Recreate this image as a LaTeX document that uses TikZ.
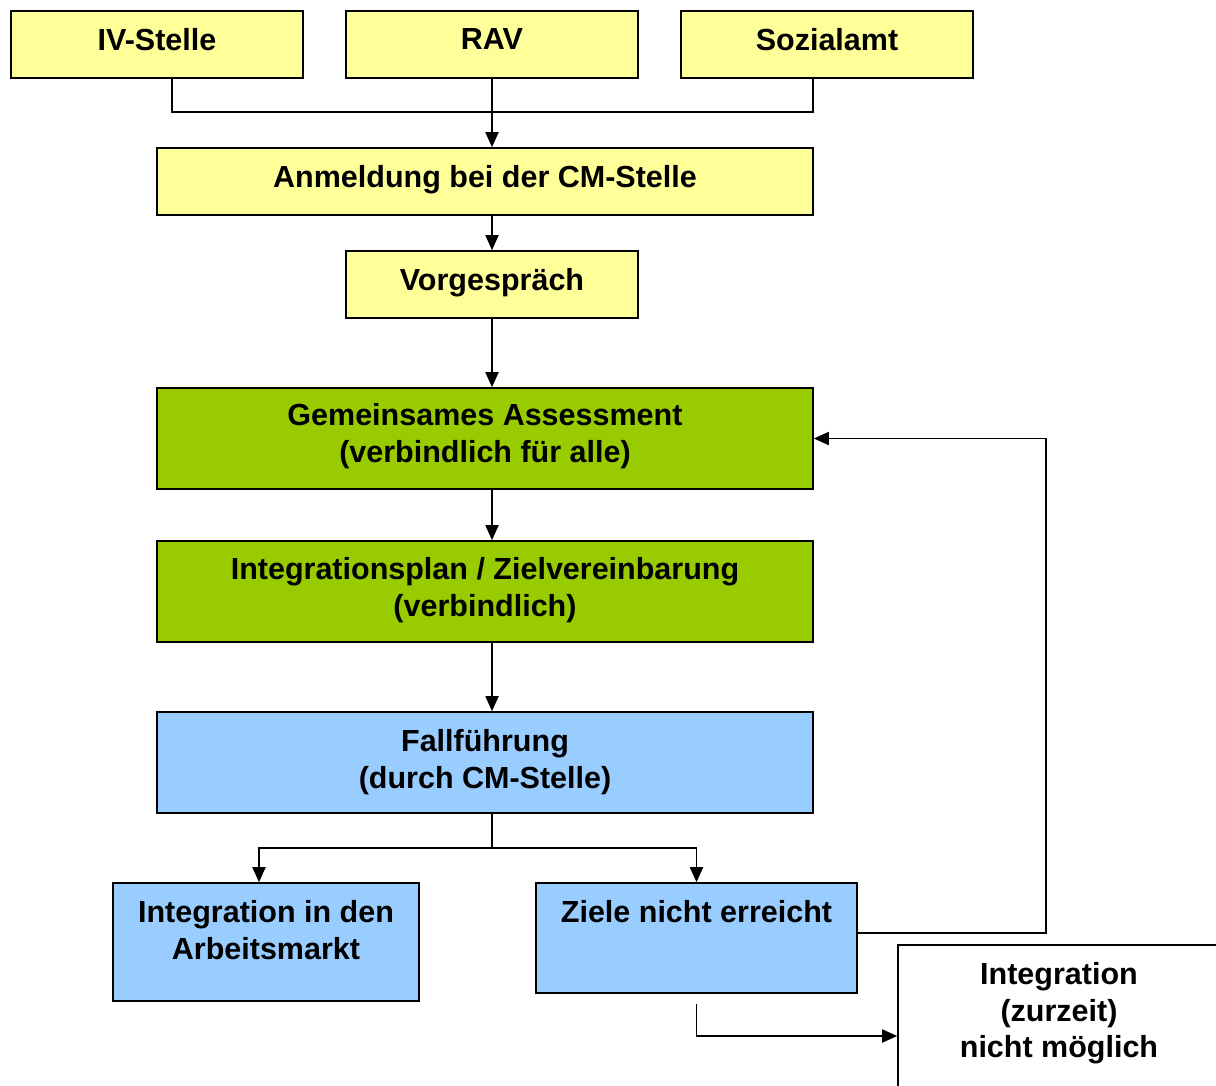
\documentclass[tikz,border=0pt]{standalone}
\usepackage{fontspec}
\setmainfont{Liberation Sans}
\usetikzlibrary{arrows.meta}
\definecolor{pyellow}{HTML}{FFFF99}
\definecolor{pgreen}{HTML}{99CC00}
\definecolor{pblue}{HTML}{99CCFF}
\begin{document}
\begin{tikzpicture}[x=1pt,y=-1pt,
  box/.style={draw=black, line width=1.6pt, rectangle, inner sep=0pt},
  ybox/.style={box, fill=pyellow},
  gbox/.style={box, fill=pgreen},
  bbox/.style={box, fill=pblue},
  wbox/.style={box, fill=white},
  lbl/.style={anchor=north, inner sep=0pt, align=center,
    font=\fontsize{30.5}{36.5}\selectfont\bfseries},
  line/.style={draw=black, line width=1.8pt},
  arr/.style={line, -{Triangle[length=15pt,width=13pt]}}]
\useasboundingbox (0,0) rectangle (1216,1086);
\clip (0,0) rectangle (1216,1086);
\fill[white] (0,0) rectangle (1216,1086);

% boxes: centre, width, height
\node[ybox, minimum width=292pt, minimum height=67pt] (iv)  at (157,44.5) {};
\node[ybox, minimum width=292pt, minimum height=67pt] (rav) at (492,44.5) {};
\node[ybox, minimum width=292pt, minimum height=67pt] (soz) at (827,44.5) {};
\node[ybox, minimum width=656pt, minimum height=67pt] (anm) at (485,181.5) {};
\node[ybox, minimum width=292pt, minimum height=67pt] (vor) at (492,284.5) {};
\node[gbox, minimum width=656pt, minimum height=101pt] (ass) at (485,438.5) {};
\node[gbox, minimum width=656pt, minimum height=101pt] (plan) at (485,591.5) {};
\node[bbox, minimum width=656pt, minimum height=101pt] (fall) at (485,762.5) {};
\node[bbox, minimum width=306pt, minimum height=118pt] (iam) at (266,942) {};
\node[bbox, minimum width=321pt, minimum height=110pt] (ziel) at (696.5,938) {};
\node[wbox, minimum width=322pt, minimum height=182pt] (nm) at (1059,1036) {};

% labels, hung from the top edge of each box
\node[lbl, yshift=-18pt] at (iv.north)  {IV-Stelle};
\node[lbl, yshift=-18pt] at (rav.north) {RAV};
\node[lbl, yshift=-18pt] at (soz.north) {Sozialamt};
\node[lbl, yshift=-18pt] at (anm.north) {Anmeldung bei der CM-Stelle};
\node[lbl, yshift=-18pt] at (vor.north) {Vorgespräch};
\node[lbl, yshift=-16pt] at (ass.north) {Gemeinsames Assessment\\(verbindlich für alle)};
\node[lbl, yshift=-17pt] at (plan.north) {Integrationsplan / Zielvereinbarung\\(verbindlich)};
\node[lbl, yshift=-18pt] at (fall.north) {Fallführung\\(durch CM-Stelle)};
\node[lbl, yshift=-18pt] at (iam.north) {Integration in den\\Arbeitsmarkt};
\node[lbl, yshift=-18pt] at (ziel.north) {Ziele nicht erreicht};
\node[lbl, yshift=-18pt] at (nm.north) {Integration\\(zurzeit)\\nicht möglich};

% junctions
\coordinate (jtop) at (492,112);
\coordinate (jfall) at (492,848);
\coordinate (fb) at (1046,438.5);

% connectors
\draw[line] ([xshift=15pt]iv.south) |- (jtop) -| ([xshift=-14pt]soz.south);
\draw[arr] (rav.south) -- (rav.south |- anm.north);
\draw[arr] ([xshift=7pt]anm.south) -- (vor.north);
\draw[arr] (vor.south) -- ([xshift=7pt]ass.north);
\draw[arr] ([xshift=7pt]ass.south) -- ([xshift=7pt]plan.north);
\draw[arr] ([xshift=7pt]plan.south) -- ([xshift=7pt]fall.north);
\draw[line] ([xshift=7pt]fall.south) -- (jfall);
\draw[arr] (jfall) -| ([xshift=-7pt]iam.north);
\draw[arr] (jfall) -| (ziel.north);
\draw[arr] ([yshift=5pt]ziel.east) -| (fb) -- (ass.east);
\draw[arr] ([yshift=-10pt]ziel.south) |- (nm.west);
\end{tikzpicture}
\end{document}
